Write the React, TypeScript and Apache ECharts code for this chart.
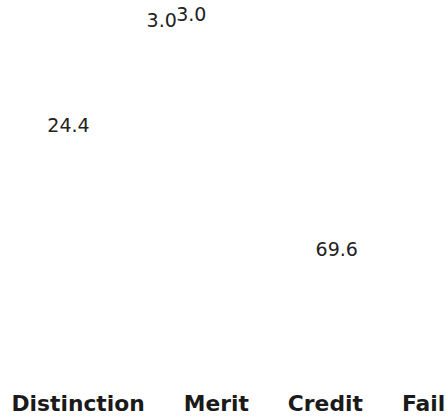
import React, { useEffect, useRef } from "react";
import * as echarts from "echarts";

const categories = ["Distinction", "Merit", "Credit", "Fail"];
const values = [3.0, 3.0, 24.4, 69.6];

const CX = 208.5;
const CY = 174.2;

export default function App() {
  const ref = useRef<HTMLDivElement>(null);
  useEffect(() => {
    const chart = echarts.init(ref.current!, undefined, { renderer: "svg" });
    chart.setOption({
      animation: false,
      backgroundColor: "#ffffff",
      legend: {
        data: categories,
        left: 6.5,
        top: 392,
        width: 460,
        padding: 0,
        itemWidth: 0,
        itemHeight: 0,
        itemGap: 34,
        itemStyle: { opacity: 0 },
        textStyle: {
          fontFamily: "DejaVu Sans",
          fontSize: 21.8,
          fontWeight: "bold",
          color: "#1a1a1a",
        },
        selectedMode: false,
      },
      series: [
        {
          type: "pie",
          center: [CX, CY],
          radius: [120, 171],
          startAngle: 95,
          clockwise: false,
          avoidLabelOverlap: false,
          silent: true,
          itemStyle: { color: "rgba(255,255,255,0)", borderWidth: 0 },
          emphasis: { disabled: true },
          label: {
            show: true,
            position: "inside",
            fontFamily: "DejaVu Sans",
            fontSize: 19,
            color: "#222222",
            formatter: (p: any) => Number(p.value).toFixed(1),
          },
          labelLine: { show: false },
          labelLayout: (params: any) => {
            const v = values[params.dataIndex];
            if (v >= 5) return {};
            const r = params.labelRect;
            const mx = r.x + r.width / 2 - CX;
            const my = r.y + r.height / 2 - CY;
            const len = Math.sqrt(mx * mx + my * my) || 1;
            const ux = mx / len;
            const uy = my / len;
            // radial push outward plus a small clockwise shift
            return { dx: ux * 12 - uy * 12, dy: uy * 12 + ux * 12 };
          },
          data: categories.map((name, i) => ({ name, value: values[i] })),
        },
      ],
    });
    return () => chart.dispose();
  }, []);
  return (
    <div
      ref={ref}
      style={{ position: "fixed", left: 0, top: 0, width: 447, height: 416 }}
    />
  );
}
